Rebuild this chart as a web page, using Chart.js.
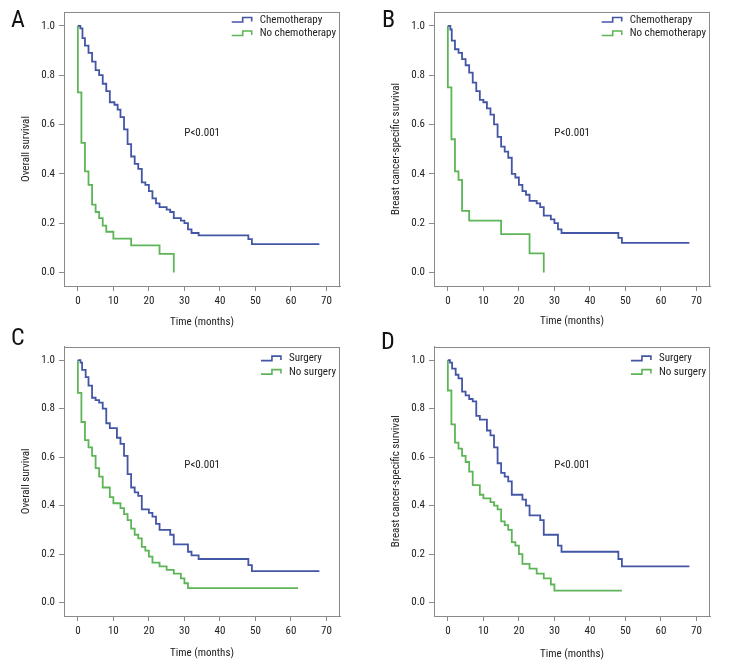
<!DOCTYPE html>
<html>
<head>
<meta charset="utf-8">
<title>Survival curves</title>
<script src="https://cdn.jsdelivr.net/npm/chart.js@4.4.1/dist/chart.umd.min.js"></script>
<style>
  body { margin: 0; background: #fff; }
  #fig { position: relative; width: 732px; height: 672px; overflow: hidden; }
  #fig canvas { position: absolute; }
  .tag {
    position: absolute;
    font-family: 'Roboto Condensed', 'Fira Sans Condensed', 'DejaVu Sans Condensed', sans-serif;
    font-size: 24px;
    line-height: 1;
    color: #111;
  }
</style>
</head>
<body>
<div id="fig">
  <canvas id="chartA" width="366" height="336" style="left:0;top:0"></canvas>
  <canvas id="chartB" width="366" height="336" style="left:366px;top:0"></canvas>
  <canvas id="chartC" width="366" height="336" style="left:0;top:336px"></canvas>
  <canvas id="chartD" width="366" height="336" style="left:366px;top:336px"></canvas>
  <div class="tag" style="left:11px;top:7px">A</div>
  <div class="tag" style="left:382px;top:7px">B</div>
  <div class="tag" style="left:11px;top:325px">C</div>
  <div class="tag" style="left:381px;top:329px">D</div>
</div>
<script>
var xTicks = [0, 10, 20, 30, 40, 50, 60, 70];
var yTicks = [0, 0.2, 0.4, 0.6, 0.8, 1.0];

// A: overall survival, chemotherapy vs none
var aChemoTime = [0, 0.7, 1.3, 2, 3, 4, 5, 6, 7, 8, 9, 10.3, 11.2, 12, 13, 14, 15, 16, 17, 18, 19, 20, 21, 22, 23, 25, 26, 27, 29, 30, 31, 32, 34, 48, 49, 68];
var aChemoSurv = [1, 0.99, 0.95, 0.92, 0.89, 0.855, 0.82, 0.80, 0.765, 0.735, 0.69, 0.68, 0.66, 0.63, 0.58, 0.52, 0.47, 0.44, 0.42, 0.365, 0.355, 0.33, 0.30, 0.28, 0.265, 0.255, 0.245, 0.22, 0.21, 0.20, 0.175, 0.16, 0.15, 0.135, 0.115, 0.115];
var aNoChemoTime = [0, 0, 1, 2, 3, 4, 5, 6, 7, 8, 10, 15, 23, 27];
var aNoChemoSurv = [1, 0.73, 0.525, 0.41, 0.355, 0.275, 0.245, 0.22, 0.19, 0.165, 0.137, 0.11, 0.075, 0];

// B: breast cancer-specific survival, chemotherapy vs none
var bChemoTime = [0, 0.7, 1.1, 2, 3, 4, 5, 6, 7, 8, 9, 10, 11, 12, 13, 14, 15, 16, 17, 18, 19, 20, 21, 22, 23, 25, 26, 27, 29, 30, 31, 32, 48, 49, 68];
var bChemoSurv = [1, 0.985, 0.94, 0.905, 0.89, 0.865, 0.84, 0.81, 0.77, 0.735, 0.70, 0.69, 0.665, 0.64, 0.60, 0.55, 0.51, 0.49, 0.465, 0.40, 0.385, 0.355, 0.33, 0.315, 0.29, 0.28, 0.265, 0.23, 0.215, 0.20, 0.175, 0.16, 0.14, 0.12, 0.12];
var bNoChemoTime = [0, 0, 1, 2, 3, 4, 6, 15, 23, 27];
var bNoChemoSurv = [1, 0.75, 0.54, 0.41, 0.375, 0.25, 0.21, 0.155, 0.077, 0];

// C: overall survival, surgery vs none
var cSurgTime = [0, 0.75, 1.2, 2.2, 3, 4, 5, 6, 7, 8, 9, 11, 12, 13, 14, 15, 16, 17, 18, 20, 21, 22, 23, 26, 27, 31, 32, 34, 48, 49, 68];
var cSurgSurv = [1, 0.99, 0.96, 0.93, 0.895, 0.845, 0.835, 0.825, 0.80, 0.74, 0.72, 0.68, 0.655, 0.605, 0.53, 0.475, 0.455, 0.44, 0.385, 0.37, 0.355, 0.325, 0.30, 0.28, 0.24, 0.21, 0.195, 0.18, 0.155, 0.13, 0.13];
var cNoSurgTime = [0, 0, 1, 2, 3, 4, 5, 6, 7, 9, 10, 12, 13, 14, 15, 16, 17, 18, 19, 20, 21, 23, 25, 27, 29, 30, 31, 62];
var cNoSurgSurv = [1, 0.865, 0.745, 0.67, 0.64, 0.605, 0.555, 0.52, 0.475, 0.435, 0.41, 0.39, 0.365, 0.34, 0.305, 0.28, 0.265, 0.23, 0.215, 0.19, 0.165, 0.15, 0.135, 0.12, 0.10, 0.08, 0.06, 0.06];

// D: breast cancer-specific survival, surgery vs none
var dSurgTime = [0, 0.6, 1.2, 2.2, 3, 4, 5, 6, 7, 8, 9, 11, 12, 13, 14, 15, 16, 17, 18, 21, 22, 23, 26, 27, 31, 32, 48, 49, 68];
var dSurgSurv = [1, 0.99, 0.965, 0.94, 0.925, 0.87, 0.855, 0.84, 0.83, 0.77, 0.755, 0.71, 0.69, 0.64, 0.575, 0.535, 0.52, 0.50, 0.445, 0.425, 0.40, 0.36, 0.34, 0.28, 0.235, 0.21, 0.18, 0.15, 0.15];
var dNoSurgTime = [0, 0, 1, 2, 3, 4, 5, 6, 7, 9, 10, 12, 13, 14, 15, 16, 17, 18, 19, 20, 21, 23, 25, 27, 29, 30, 49];
var dNoSurgSurv = [1, 0.875, 0.735, 0.66, 0.635, 0.605, 0.58, 0.54, 0.485, 0.445, 0.43, 0.415, 0.40, 0.385, 0.335, 0.32, 0.30, 0.25, 0.235, 0.20, 0.16, 0.14, 0.12, 0.10, 0.075, 0.05, 0.05];

var BLUE = '#4356a6';
var GREEN = '#5db557';
var AXIS = '#8a8a8a';
var FONT = "'Roboto Condensed', 'Fira Sans Condensed', 'DejaVu Sans Condensed', sans-serif";
var FONT_SIZE = 11;

function toPoints(times, surv) {
    return times.map(function (t, i) { return { x: t, y: surv[i] }; });
}

// full frame around the plot area
var boxPlugin = {
    id: 'box',
    afterDraw: function (chart) {
        var a = chart.chartArea, ctx = chart.ctx;
        ctx.save();
        ctx.strokeStyle = AXIS;
        ctx.lineWidth = 1;
        ctx.strokeRect(Math.round(a.left) + 0.5, Math.round(a.top) + 0.5,
            Math.round(a.right - a.left) - 1, Math.round(a.bottom - a.top));
        ctx.restore();
    }
};

// legend with little step icons, top right inside the frame
var kmLegend = {
    id: 'kmLegend',
    afterDraw: function (chart, args, opts) {
        var a = chart.chartArea, ctx = chart.ctx;
        var sets = chart.data.datasets;
        ctx.save();
        ctx.font = FONT_SIZE + 'px ' + FONT;
        var maxW = 0;
        sets.forEach(function (ds) { maxW = Math.max(maxW, ctx.measureText(ds.label).width); });
        var xt = a.right - 4 - maxW;
        sets.forEach(function (ds, i) {
            var yc = a.top + opts.top + i * 13.5;
            ctx.strokeStyle = ds.borderColor;
            ctx.lineWidth = 1.6;
            ctx.beginPath();
            ctx.moveTo(xt - 28, yc + 2);
            ctx.lineTo(xt - 17, yc + 2);
            ctx.lineTo(xt - 17, yc - 2.5);
            ctx.lineTo(xt - 8, yc - 2.5);
            ctx.lineTo(xt - 8, yc + 1.5);
            ctx.stroke();
            ctx.fillStyle = '#222';
            ctx.textBaseline = 'middle';
            ctx.textAlign = 'left';
            ctx.fillText(ds.label, xt, yc);
        });
        ctx.restore();
    }
};

var pValue = {
    id: 'pValue',
    afterDraw: function (chart, args, opts) {
        var ctx = chart.ctx;
        var px = chart.scales.x.getPixelForValue(opts.x);
        var py = chart.scales.y.getPixelForValue(opts.y);
        ctx.save();
        ctx.font = FONT_SIZE + 'px ' + FONT;
        ctx.fillStyle = '#222';
        ctx.textAlign = 'center';
        ctx.textBaseline = 'middle';
        ctx.fillText(opts.text, px, py);
        ctx.restore();
    }
};

function drawPanel(id, p) {
    var tickFont = { family: FONT, size: FONT_SIZE };
    new Chart(document.getElementById(id), {
        type: 'line',
        data: {
            datasets: [
                { label: p.labels[0], data: toPoints(p.t1, p.s1), borderColor: BLUE },
                { label: p.labels[1], data: toPoints(p.t2, p.s2), borderColor: GREEN }
            ]
        },
        options: {
            responsive: false,
            devicePixelRatio: 1,
            animation: false,
            events: [],
            layout: { padding: { left: 0, top: p.top, right: p.right, bottom: 0 } },
            elements: {
                line: { stepped: true, borderWidth: 1.8, fill: false, tension: 0 },
                point: { radius: 0 }
            },
            scales: {
                x: {
                    type: 'linear',
                    min: -3.9,
                    max: 73.8,
                    afterBuildTicks: function (s) { s.ticks = xTicks.map(function (v) { return { value: v }; }); },
                    afterFit: function (s) { s.height = p.xHeight; },
                    grid: { drawOnChartArea: false, drawTicks: true, tickLength: 5, color: AXIS },
                    border: { display: true, color: AXIS, width: 1 },
                    ticks: { font: tickFont, color: '#222', padding: 4, maxRotation: 0,
                        callback: function (v) { return String(v); } },
                    title: { display: true, text: 'Time (months)', font: tickFont, color: '#222',
                        padding: { top: 0, bottom: p.xTitlePad } }
                },
                y: {
                    type: 'linear',
                    min: -0.055,
                    max: 1.056,
                    afterBuildTicks: function (s) { s.ticks = yTicks.map(function (v) { return { value: v }; }); },
                    afterFit: function (s) { s.width = p.yWidth; },
                    grid: { drawOnChartArea: false, drawTicks: true, tickLength: 5, color: AXIS },
                    border: { display: true, color: AXIS, width: 1 },
                    ticks: { font: tickFont, color: '#222', padding: 4,
                        callback: function (v) { return v.toFixed(1); } },
                    title: { display: true, text: p.yTitle, font: tickFont, color: '#222',
                        padding: { top: p.yTitlePad, bottom: 0 } }
                }
            },
            plugins: {
                legend: { display: false },
                tooltip: { enabled: false },
                kmLegend: { top: p.legendTop },
                pValue: { text: 'P<0.001', x: 35, y: 0.565 }
            }
        },
        plugins: [boxPlugin, kmLegend, pValue]
    });
}

drawPanel('chartA', {
    labels: ['Chemotherapy', 'No chemotherapy'],
    t1: aChemoTime, s1: aChemoSurv, t2: aNoChemoTime, s2: aNoChemoSurv,
    yTitle: 'Overall survival',
    top: 12, right: 26, yWidth: 64, xHeight: 50, yTitlePad: 20, xTitlePad: 7.5, legendTop: 8
});
drawPanel('chartB', {
    labels: ['Chemotherapy', 'No chemotherapy'],
    t1: bChemoTime, s1: bChemoSurv, t2: bNoChemoTime, s2: bNoChemoSurv,
    yTitle: 'Breast cancer-specific survival',
    top: 12, right: 22, yWidth: 68, xHeight: 50, yTitlePad: 24, xTitlePad: 8, legendTop: 8
});
drawPanel('chartC', {
    labels: ['Surgery', 'No surgery'],
    t1: cSurgTime, s1: cSurgSurv, t2: cNoSurgTime, s2: cNoSurgSurv,
    yTitle: 'Overall survival',
    top: 5, right: 26, yWidth: 64, xHeight: 56, yTitlePad: 20, xTitlePad: 12, legendTop: 12
});
drawPanel('chartD', {
    labels: ['Surgery', 'No surgery'],
    t1: dSurgTime, s1: dSurgSurv, t2: dNoSurgTime, s2: dNoSurgSurv,
    yTitle: 'Breast cancer-specific survival',
    top: 5, right: 22, yWidth: 68, xHeight: 56, yTitlePad: 24, xTitlePad: 11.5, legendTop: 12
});
</script>
</body>
</html>
